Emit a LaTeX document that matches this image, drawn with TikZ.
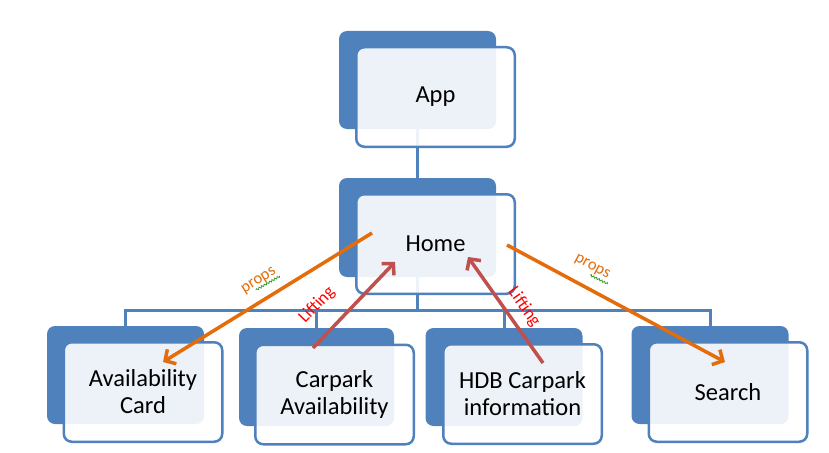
\documentclass[tikz,border=0pt]{standalone}
\usepackage{fontspec}
\setmainfont{Carlito}
\usetikzlibrary{arrows.meta,decorations.pathmorphing}
\definecolor{accblue}{HTML}{4F81BD}
\definecolor{accorange}{HTML}{E46C0A}
\definecolor{accred}{HTML}{C0504D}
\definecolor{lblred}{HTML}{FF0000}
\definecolor{spellgreen}{HTML}{3A9A2A}
\begin{document}
\begin{tikzpicture}[x=1pt,y=-1pt,
  backbox/.style={draw=none, fill=accblue, rounded corners=8pt, minimum width=157pt, minimum height=98pt, inner sep=0pt},
  frontbox/.style={draw=accblue, line width=2.5pt, fill=white, fill opacity=0.9, draw opacity=1, text opacity=1,
    rounded corners=8pt, minimum width=158.5pt, minimum height=99.5pt, inner sep=0pt, align=center,
    font=\fontsize{24.5}{27}\selectfont},
  conn/.style={draw=accblue, line width=3pt},
  proparr/.style={draw=accorange, line width=3.5pt, -{Straight Barb[length=8pt,width=17pt,line width=3.5pt]}},
  liftarr/.style={draw=accred, line width=3.5pt, -{Straight Barb[length=8pt,width=17pt,line width=3.5pt]}},
  proplbl/.style={text=accorange, font=\fontsize{16.5}{19}\selectfont, inner sep=0pt},
  liftlbl/.style={text=lblred, font=\fontsize{17.5}{20}\selectfont, inner sep=0pt},
  squiggle/.style={draw=spellgreen, line width=0.8pt, decorate, decoration={snake, segment length=3pt, amplitude=0.9pt}}
]
\useasboundingbox (0,0) rectangle (829,452);

% back shapes
\node[backbox] (appB) at (417.5,80) {};
\node[backbox, minimum height=99pt] (homeB) at (417.5,227.5) {};
\node[backbox] (availB) at (125.5,375) {};
\node[backbox, minimum width=155pt] (carB) at (316.5,377) {};
\node[backbox] (hdbB) at (504,377) {};
\node[backbox] (searchB) at (710,375) {};

% connectors
\coordinate (bar) at (417.5,310);
\draw[conn] (appB.south) -- (homeB.north);
\draw[conn] (homeB.south) -- (homeB.south |- bar) -| (availB.north);
\draw[conn] (homeB.south) -- (homeB.south |- bar) -| (carB.north);
\draw[conn] (homeB.south) -- (homeB.south |- bar) -| (hdbB.north);
\draw[conn] (homeB.south) -- (homeB.south |- bar) -| (searchB.north);

% front shapes
\node[frontbox] (app) at (435.5,97) {App};
\node[frontbox] (home) at (435.5,244) {Home};
\node[frontbox] (avail) at (143,392) {Availability\\Card};
\node[frontbox] (car) at (334.5,394.5) {Carpark\\Availability};
\node[frontbox] (hdb) at (522.5,394) {HDB Carpark\\information};
\node[frontbox] (search) at (728,392) {Search};

% arrow end points
\coordinate (pAs) at (372,233);
\coordinate (pAe) at (163,362);
\coordinate (pBs) at (507,245);
\coordinate (pBe) at (725,362);
\coordinate (lAs) at (313,348);
\coordinate (lAe) at (395,262);
\coordinate (lBs) at (543,363);
\coordinate (lBe) at (468,257);

\draw[proparr] (pAs) -- (pAe);
\draw[proparr] (pBs) -- (pBe);
\draw[liftarr] (lAs) -- (lAe);
\draw[liftarr] (lBs) -- (lBe);

% labels
\node[proplbl, rotate=32] (propsA) at (259,281) {props};
\node[proplbl, rotate=-28] (propsB) at (592,267) {props};
\node[liftlbl, rotate=46] (liftA) at (317,305) {Lifting};
\node[liftlbl, rotate=-55] (liftB) at (524,307) {Lifting};

% spell-check squiggles
\draw[squiggle] (256,290) -- (280,276);
\draw[squiggle] (590,275) -- (608,284);
\end{tikzpicture}
\end{document}
